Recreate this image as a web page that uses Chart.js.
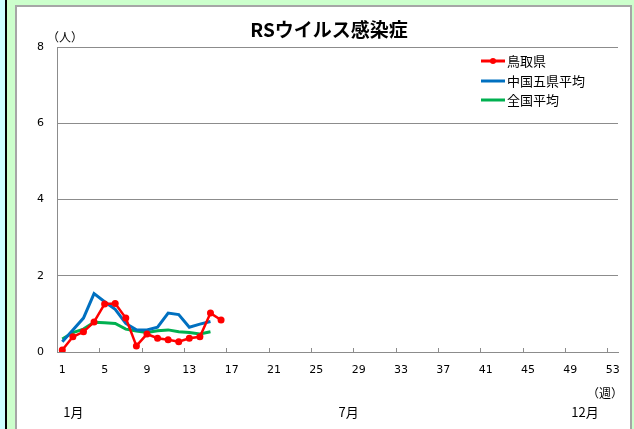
<!DOCTYPE html>
<html>
<head>
<meta charset="utf-8">
<script src="https://cdn.jsdelivr.net/npm/chart.js@4.4.1/dist/chart.umd.min.js"></script>
<style>
  html, body { margin: 0; padding: 0; background: #fff; }
  #wrap { position: relative; width: 634px; height: 429px; }
  canvas { display: block; }
</style>
</head>
<body>
<div id="wrap"><canvas id="c" width="634" height="429"></canvas></div>
<script>
// Week numbers (category axis)
const weeks = ['1','2','3','4','5','6','7','8','9','10','11','12','13','14','15','16','17','18',
  '19','20','21','22','23','24','25','26','27','28','29','30','31','32','33','34','35','36',
  '37','38','39','40','41','42','43','44','45','46','47','48','49','50','51','52','53'];

// Reports per sentinel site
const tottori  = [0.05, 0.40, 0.53, 0.79, 1.26, 1.27, 0.89, 0.16, 0.47, 0.36, 0.32, 0.27, 0.36, 0.40, 1.02, 0.84];
const chugoku5 = [0.27, 0.58, 0.89, 1.53, 1.32, 1.12, 0.75, 0.58, 0.58, 0.65, 1.02, 0.98, 0.65, 0.73, 0.80];
const national = [0.34, 0.51, 0.60, 0.78, 0.77, 0.75, 0.60, 0.55, 0.51, 0.56, 0.58, 0.53, 0.51, 0.47, 0.53];

const seriesNames = ['鳥取県', '中国五県平均', '全国平均'];
const yTicks = [0, 2, 4, 6, 8];
const monthLabels = [
  { text: '1月', week: '1' },
  { text: '7月', week: '27' },
  { text: '12月', week: '49' }
];

const CJK = '"Noto Sans CJK JP", "Noto Sans", sans-serif';
const NUM = '"DejaVu Sans", sans-serif';
const GRID = '#8c8c8c';

// Page frame: coloured margins and white panel
const framePlugin = {
  id: 'frame',
  beforeDraw(chart) {
    const ctx = chart.ctx;
    ctx.save();
    ctx.fillStyle = '#ffffff';
    ctx.fillRect(0, 0, 634, 429);
    ctx.fillStyle = '#ccffff'; ctx.fillRect(0, 0, 5, 429);
    ctx.fillStyle = '#000000'; ctx.fillRect(5, 0, 2, 429);
    ctx.fillStyle = '#ccffcc'; ctx.fillRect(7, 0, 8, 429);
    ctx.fillRect(15, 0, 619, 5);
    ctx.fillRect(632, 0, 2, 429);
    ctx.fillStyle = '#a6a6a6';
    ctx.fillRect(15, 5, 617, 2);
    ctx.fillRect(15, 5, 2, 424);
    ctx.fillRect(630, 5, 2, 424);
    ctx.restore();
  }
};

// Short inward tick marks between every fourth week
const innerTicks = {
  id: 'innerTicks',
  afterDatasetsDraw(chart) {
    const x = chart.scales.x, ctx = chart.ctx;
    const bottom = chart.chartArea.bottom;
    ctx.save();
    ctx.strokeStyle = GRID;
    ctx.lineWidth = 1;
    for (let i = 4; i < weeks.length; i += 4) {
      const px = Math.round((x.getPixelForValue(i - 1) + x.getPixelForValue(i)) / 2) + 0.5;
      ctx.beginPath();
      ctx.moveTo(px, bottom - 4);
      ctx.lineTo(px, bottom);
      ctx.stroke();
    }
    ctx.restore();
  }
};

// Title, unit labels, month labels and legend
const textPlugin = {
  id: 'texts',
  afterDraw(chart) {
    const ctx = chart.ctx, x = chart.scales.x;
    ctx.save();
    ctx.fillStyle = '#000';
    ctx.textBaseline = 'middle';

    ctx.font = 'bold 19px ' + CJK;
    ctx.textAlign = 'center';
    ctx.fillText('RSウイルス感染症', 329, 30);

    ctx.font = '12px ' + CJK;
    ctx.textAlign = 'left';
    ctx.fillText('（人）', 47, 37);
    ctx.fillText('（週）', 587, 393);

    ctx.font = '13px ' + CJK;
    monthLabels.forEach(m => {
      const px = x.getPixelForValue(weeks.indexOf(m.week));
      ctx.fillText(m.text, px + 1, 412);
    });

    // legend
    const ys = [61, 81, 100];
    chart.data.datasets.forEach((ds, i) => {
      const y = ys[i];
      ctx.strokeStyle = ds.borderColor;
      ctx.lineWidth = 3;
      ctx.beginPath();
      ctx.moveTo(481, y); ctx.lineTo(505, y);
      ctx.stroke();
      if (ds.pointRadius > 0) {
        ctx.fillStyle = ds.pointBackgroundColor;
        ctx.beginPath(); ctx.arc(493, y, 3, 0, Math.PI * 2); ctx.fill();
      }
      ctx.fillStyle = '#000';
      ctx.font = '13px ' + CJK;
      ctx.fillText(ds.label, 507, y);
    });
    ctx.restore();
  }
};

new Chart(document.getElementById('c'), {
  type: 'line',
  data: {
    labels: weeks,
    datasets: [
      { label: seriesNames[0], data: tottori, borderColor: '#ff0000', backgroundColor: '#ff0000',
        pointBackgroundColor: '#ff0000', pointBorderWidth: 0, pointRadius: 3.5, borderWidth: 2.5 },
      { label: seriesNames[1], data: chugoku5, borderColor: '#0070c0', backgroundColor: '#0070c0',
        pointRadius: 0, borderWidth: 3 },
      { label: seriesNames[2], data: national, borderColor: '#00b050', backgroundColor: '#00b050',
        pointRadius: 0, borderWidth: 3 }
    ]
  },
  options: {
    responsive: false,
    animation: false,
    devicePixelRatio: 1,
    layout: { padding: { top: 47, right: 16, left: 0, bottom: 0 } },
    plugins: { legend: { display: false }, title: { display: false }, tooltip: { enabled: false } },
    elements: { line: { tension: 0 } },
    scales: {
      x: {
        type: 'category',
        offset: true,
        afterFit(s) { s.height = 77; },
        grid: { display: false, drawTicks: false },
        border: { display: true, color: GRID, width: 1 },
        ticks: {
          autoSkip: false, maxRotation: 0, padding: 12, color: '#000',
          font: { family: NUM, size: 11 },
          callback(v, i) { return i % 4 === 0 ? weeks[i] : ''; }
        }
      },
      y: {
        min: 0, max: 8,
        afterFit(s) { s.width = 57; },
        afterBuildTicks(s) { s.ticks = yTicks.map(v => ({ value: v })); },
        grid: { color: GRID, lineWidth: 1, drawTicks: false },
        border: { display: true, color: GRID, width: 1 },
        ticks: { padding: 13, color: '#000', font: { family: NUM, size: 11 } }
      }
    }
  },
  plugins: [framePlugin, innerTicks, textPlugin]
});
</script>
</body>
</html>
